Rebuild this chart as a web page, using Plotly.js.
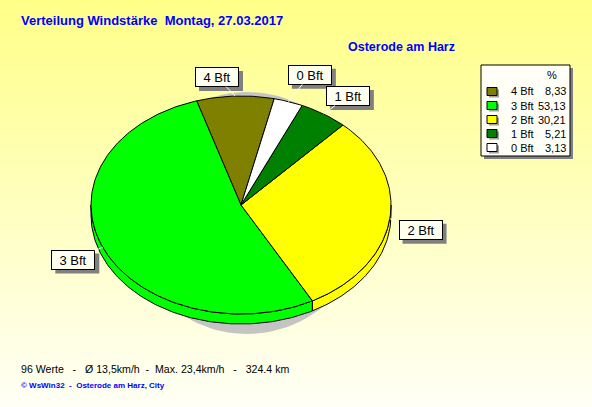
<!DOCTYPE html>
<html><head><meta charset="utf-8">
<script src="https://cdn.plot.ly/plotly-3.0.1.min.js"></script>
<style>
html,body{margin:0;padding:0;background:#fff;}
#chart{width:592px;height:407px;background:linear-gradient(to bottom,#FFFF88 0%,#FFFFF6 100%);}
</style></head><body><div id="chart"></div>
<script>
// ---- data ----
const categories = ['4 Bft', '3 Bft', '2 Bft', '1 Bft', '0 Bft'];
const percents = [8.33, 53.13, 30.21, 5.21, 3.13];
const percentLabels = ['8,33', '53,13', '30,21', '5,21', '3,13'];
const colors = ['#808000', '#00FF00', '#FFFF00', '#008000', '#FFFFFF'];
const titleText = 'Verteilung Windstärke\u00a0\u00a0Montag, 27.03.2017';
const stationText = 'Osterode am Harz';
const footerText = '96 Werte\u00a0\u00a0 -\u00a0\u00a0 Ø 13,5km/h\u00a0 -\u00a0 Max. 23,4km/h\u00a0\u00a0 -\u00a0\u00a0 324.4 km';
const creditText = '© WsWin32\u00a0\u00a0-\u00a0\u00a0Osterode am Harz, City';

// ---- layout geometry ----
const W = 592, H = 407;
const cx = 241, cy = 205, rx = 150, ry = 109, depth = 10 / 109;
const startAngle = 12.8; // degrees from top, slices run counter-clockwise
const labelRadius = 1.22;
// pixel nudges for label boxes (layout only), in legend order
const labelNudgePx = [[-17, 5], [1, 3], [-2, 8], [6, 2], [11, -4]];
const FONT = 'Liberation Sans, Arial, sans-serif';
const px = v => v / W, py = v => 1 - v / H;
const rad = d => d * Math.PI / 180;

const total = percents.reduce((a, b) => a + b, 0);
const traces = [];

// shadow ellipse
{
  const xs = [], ys = [];
  for (let t = 0; t <= 360; t += 3) {
    xs.push(6 / rx + (120 / rx) * Math.sin(rad(t)));
    ys.push(-8 / ry + (121 / ry) * Math.cos(rad(t)));
  }
  traces.push({type: 'scatter', mode: 'lines', x: xs, y: ys, fill: 'toself',
    fillcolor: '#C4C4C4', line: {width: 0, color: '#C4C4C4'}, hoverinfo: 'skip', showlegend: false});
}

const slices = [];
let cum = 0;
percents.forEach((p, i) => {
  const a0 = startAngle - cum / total * 360;
  const a1 = a0 - p / total * 360;
  cum += p;
  slices.push({i, a0, a1});
});

function arc(from, to, dy) {
  const xs = [], ys = [];
  const n = Math.max(2, Math.ceil(Math.abs(to - from)));
  for (let k = 0; k <= n; k++) {
    const t = from + (to - from) * k / n;
    xs.push(Math.sin(rad(t)));
    ys.push(Math.cos(rad(t)) - dy);
  }
  return [xs, ys];
}

// sides (lower half only)
slices.forEach(s => {
  for (let k = -2; k <= 1; k++) {
    const lo = Math.max(s.a1, 90 + 360 * k), hi = Math.min(s.a0, 270 + 360 * k);
    if (hi > lo) {
      const [tx, ty] = arc(lo, hi, 0);
      const [bx, by] = arc(hi, lo, depth);
      traces.push({type: 'scatter', mode: 'lines', x: tx.concat(bx, [tx[0]]), y: ty.concat(by, [ty[0]]),
        fill: 'toself', fillcolor: colors[s.i], line: {color: '#000', width: 1},
        hoverinfo: 'skip', showlegend: false});
    }
  }
});

// top faces
slices.forEach(s => {
  const [ax, ay] = arc(s.a0, s.a1, 0);
  traces.push({type: 'scatter', mode: 'lines', x: [0].concat(ax, [0]), y: [0].concat(ay, [0]),
    fill: 'toself', fillcolor: colors[s.i], line: {color: '#000', width: 1},
    hoverinfo: 'skip', showlegend: false});
});

const annotations = [];
const shapes = [];

// slice labels
slices.forEach(s => {
  const mid = (s.a0 + s.a1) / 2;
  const ex = Math.sin(rad(mid)), ey = Math.cos(rad(mid));
  const [nx, ny] = labelNudgePx[s.i];
  const lx = labelRadius * ex + nx / rx, ly = labelRadius * ey - ny / ry;
  shapes.push({type: 'rect', xref: 'x', yref: 'y', xsizemode: 'pixel', ysizemode: 'pixel',
    xanchor: lx, yanchor: ly, x0: -18, x1: 26, y0: -14, y1: 6,
    fillcolor: '#808080', line: {width: 0}, layer: 'above'});
  annotations.push({x: ex, y: ey, xref: 'x', yref: 'y', ax: lx, ay: ly, axref: 'x', ayref: 'y',
    showarrow: true, arrowhead: 0, arrowcolor: '#FFFFFF', arrowwidth: 1, standoff: 0,
    text: categories[s.i], font: {family: FONT, size: 13, color: '#000'},
    bgcolor: '#FFFFF0', bordercolor: '#000', borderwidth: 1, borderpad: 1, width: 40, height: 16});
});

// legend box
shapes.push({type: 'rect', xref: 'paper', yref: 'paper', x0: px(484), x1: px(573), y0: py(159), y1: py(68),
  fillcolor: '#808080', line: {width: 0}, layer: 'above'});
shapes.push({type: 'rect', xref: 'paper', yref: 'paper', x0: px(481), x1: px(570), y0: py(156), y1: py(65),
  fillcolor: '#FFFFF8', line: {color: '#000', width: 1}, layer: 'above'});
annotations.push({x: px(552), y: py(75), xref: 'paper', yref: 'paper', showarrow: false, text: '%',
  font: {family: FONT, size: 11, color: '#000'}, xanchor: 'center', yanchor: 'middle'});
categories.forEach((c, i) => {
  const yc = 91.5 + 14 * i;
  shapes.push({type: 'rect', xref: 'paper', yref: 'paper', x0: px(489), x1: px(499), y0: py(yc + 6), y1: py(yc - 2),
    fillcolor: '#A0A0A0', line: {width: 0}, layer: 'above'});
  shapes.push({type: 'rect', xref: 'paper', yref: 'paper', x0: px(487), x1: px(497), y0: py(yc + 4), y1: py(yc - 4),
    fillcolor: colors[i], line: {color: '#000', width: 1}, layer: 'above'});
  annotations.push({x: px(509), y: py(yc), xref: 'paper', yref: 'paper', showarrow: false, text: c,
    font: {family: FONT, size: 11, color: '#000'}, xanchor: 'left', yanchor: 'middle'});
  annotations.push({x: px(568), y: py(yc), xref: 'paper', yref: 'paper', showarrow: false, text: percentLabels[i],
    font: {family: FONT, size: 11, color: '#000'}, xanchor: 'right', yanchor: 'middle'});
});

// texts
annotations.push({x: px(401), y: py(47), xref: 'paper', yref: 'paper', showarrow: false,
  text: '<b>' + stationText + '</b>', font: {family: FONT, size: 12.5, color: '#0000FF'}, xanchor: 'center', yanchor: 'middle'});
annotations.push({x: px(19), y: py(369), xref: 'paper', yref: 'paper', showarrow: false,
  text: footerText, font: {family: FONT, size: 10.6, color: '#000'}, xanchor: 'left', yanchor: 'middle'});
annotations.push({x: px(19), y: py(385), xref: 'paper', yref: 'paper', showarrow: false,
  text: '<b>' + creditText + '</b>', font: {family: FONT, size: 8, color: '#0000FF'}, xanchor: 'left', yanchor: 'middle'});

const layout = {
  width: W, height: H,
  margin: {l: 0, r: 0, t: 0, b: 0},
  paper_bgcolor: 'rgba(0,0,0,0)', plot_bgcolor: 'rgba(0,0,0,0)',
  title: {text: '<b>' + titleText + '</b>', x: px(21), xanchor: 'left', y: py(20), yanchor: 'middle',
    xref: 'paper', yref: 'paper', font: {family: FONT, size: 13, color: '#0000FF'}},
  xaxis: {range: [-cx / rx, (W - cx) / rx], visible: false, fixedrange: true},
  yaxis: {range: [-(H - cy) / ry, cy / ry], visible: false, fixedrange: true},
  showlegend: false,
  annotations, shapes
};
Plotly.newPlot('chart', traces, layout, {displayModeBar: false, staticPlot: true});
</script></body></html>
